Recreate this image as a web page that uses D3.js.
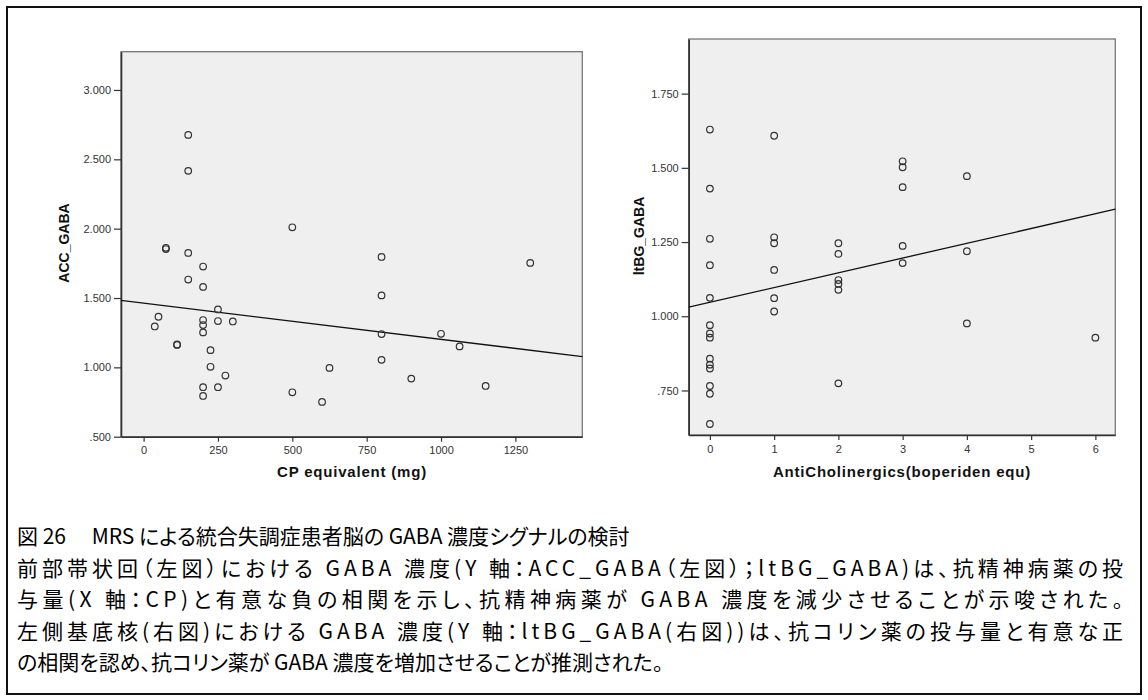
<!DOCTYPE html>
<html lang="ja">
<head>
<meta charset="utf-8">
<script src="https://cdn.jsdelivr.net/npm/d3@7"></script>
<style>
  html, body { margin: 0; padding: 0; background: #fff; }
  svg { display: block; }
  .tick text { font-family: "Liberation Sans", Arial, sans-serif; font-size: 11px; fill: #333; }
  .tick line { stroke: #333; stroke-width: 1.2; }
  .domain { stroke: #333; stroke-width: 1.6; }
  .axis-title { font-family: "Liberation Sans", Arial, sans-serif; font-weight: bold; fill: #111; }
  .caption { font-family: "Noto Sans CJK JP", sans-serif; font-size: 21px; fill: #000;
             font-feature-settings: "palt" 1; }
</style>
</head>
<body>
<svg id="fig" width="1148" height="700"></svg>
<script>
// Left panel: anterior cingulate GABA vs chlorpromazine-equivalent dose
const cpDose = [75, 75, 150, 200, 150, 200, 250, 50, 37.5, 200, 200, 250, 300, 200,
  112.5, 112.5, 225, 225, 275, 200, 250, 200, 500, 600, 625, 800, 800, 800, 800,
  900, 1000, 1062.5, 1150, 1300, 150, 150, 500];
const accGaba = [1.862, 1.853, 1.825, 1.727, 1.633, 1.580, 1.418, 1.365, 1.295, 1.341, 1.305, 1.334, 1.331, 1.252,
  1.165, 1.162, 1.124, 1.004, 0.941, 0.857, 0.857, 0.794, 0.820, 0.751, 0.996, 1.796, 1.519, 1.240, 1.054,
  0.919, 1.242, 1.151, 0.866, 1.753, 2.676, 2.417, 2.010];
const accFit = [1.463, -0.000261];            // intercept, slope
const cpTicks = [0, 250, 500, 750, 1000, 1250];
const accTicks = [0.5, 1.0, 1.5, 2.0, 2.5, 3.0];
const accTickLabels = [".500", "1.000", "1.500", "2.000", "2.500", "3.000"];

// Right panel: left basal ganglia GABA vs anticholinergic dose
const antiChol = [0, 0, 0, 0, 0, 0, 0, 0, 0, 0, 0, 0, 0, 0,
  1, 1, 1, 1, 1, 1,
  2, 2, 2, 2, 2, 2,
  3, 3, 3, 3, 3,
  4, 4, 4,
  6];
const ltbgGaba = [1.629, 1.430, 1.261, 1.172, 1.062, 0.970, 0.942, 0.928, 0.857, 0.837, 0.824, 0.765, 0.739, 0.637,
  1.608, 1.266, 1.246, 1.156, 1.061, 1.016,
  1.246, 1.210, 1.122, 1.109, 1.089, 0.774,
  1.522, 1.502, 1.435, 1.237, 1.179,
  1.472, 1.219, 0.976,
  0.928];
const ltbgFit = [1.047, 0.0497];
const acTicks = [0, 1, 2, 3, 4, 5, 6];
const ltbgTicks = [0.75, 1.0, 1.25, 1.5, 1.75];
const ltbgTickLabels = [".750", "1.000", "1.250", "1.500", "1.750"];

const captionLines = [
  "図 26\u3000 MRS による統合失調症患者脳の GABA 濃度シグナルの検討",
  "前部帯状回（左図）における GABA 濃度(Y 軸：ACC_GABA（左図）；ltBG_GABA)は、抗精神病薬の投",
  "与量(X 軸：CP)と有意な負の相関を示し、抗精神病薬が GABA 濃度を減少させることが示唆された。",
  "左側基底核(右図)における GABA 濃度(Y 軸：ltBG_GABA(右図))は、抗コリン薬の投与量と有意な正",
  "の相関を認め、抗コリン薬が GABA 濃度を増加させることが推測された。"
];

const svg = d3.select("#fig");

// page frame
svg.append("rect").attr("x", 7).attr("y", 7).attr("width", 1134).attr("height", 687)
  .attr("fill", "#fff").attr("stroke", "#111").attr("stroke-width", 2);

function panel(cfg) {
  const x = d3.scaleLinear().domain(cfg.xDomain).range([cfg.left, cfg.right]);
  const y = d3.scaleLinear().domain(cfg.yDomain).range([cfg.bottom, cfg.top]);
  const g = svg.append("g");

  g.append("rect")
    .attr("x", cfg.left).attr("y", cfg.top)
    .attr("width", cfg.right - cfg.left).attr("height", cfg.bottom - cfg.top)
    .attr("fill", "#efefef").attr("stroke", "#777").attr("stroke-width", 1.3);

  const fmt = d3.scaleOrdinal().domain(cfg.yTicks).range(cfg.yLabels);
  g.append("g").attr("transform", `translate(${cfg.left},0)`)
    .call(d3.axisLeft(y).tickValues(cfg.yTicks).tickFormat(fmt).tickSize(7).tickSizeOuter(0).tickPadding(3));
  g.append("g").attr("transform", `translate(0,${cfg.bottom})`)
    .call(d3.axisBottom(x).tickValues(cfg.xTicks).tickFormat(d3.format("d")).tickSize(5).tickSizeOuter(0).tickPadding(5));

  // fit line across the whole x range
  const xs = x.domain();
  g.append("line")
    .attr("x1", x(xs[0])).attr("y1", y(cfg.fit[0] + cfg.fit[1] * xs[0]))
    .attr("x2", x(xs[1])).attr("y2", y(cfg.fit[0] + cfg.fit[1] * xs[1]))
    .attr("stroke", "#111").attr("stroke-width", 1.3);

  g.append("g").selectAll("circle")
    .data(cfg.xs.map((v, i) => [v, cfg.ys[i]]))
    .join("circle")
    .attr("cx", d => x(d[0])).attr("cy", d => y(d[1])).attr("r", 3.3)
    .attr("fill", "none").attr("stroke", "#333").attr("stroke-width", 1.2);

  g.append("text").attr("class", "axis-title")
    .attr("x", cfg.xTitlePos[0]).attr("y", cfg.xTitlePos[1])
    .attr("text-anchor", "middle").attr("font-size", 15).attr("letter-spacing", 0.8)
    .text(cfg.xTitle);
  g.append("text").attr("class", "axis-title")
    .attr("transform", `translate(${cfg.yTitlePos[0]},${cfg.yTitlePos[1]}) rotate(-90)`)
    .attr("text-anchor", "middle").attr("dominant-baseline", "central").attr("font-size", 14)
    .text(cfg.yTitle);
}

panel({
  left: 121, right: 582.3, top: 51.7, bottom: 436.7,
  xDomain: [-76, 1475], yDomain: [0.5, 3.276],
  xTicks: cpTicks, yTicks: accTicks, yLabels: accTickLabels,
  xs: cpDose, ys: accGaba, fit: accFit,
  xTitle: "CP equivalent (mg)", xTitlePos: [352, 477],
  yTitle: "ACC_GABA", yTitlePos: [64, 243]
});

panel({
  left: 688.7, right: 1115.3, top: 39, bottom: 435,
  xDomain: [-0.33, 6.31], yDomain: [0.6, 1.934],
  xTicks: acTicks, yTicks: ltbgTicks, yLabels: ltbgTickLabels,
  xs: antiChol, ys: ltbgGaba, fit: ltbgFit,
  xTitle: "AntiCholinergics(boperiden equ)", xTitlePos: [902, 477],
  yTitle: "ltBG_GABA", yTitlePos: [639, 236]
});

// figure caption; the three middle lines are justified to the full width
const baselines = [544, 576, 607, 639, 670];
captionLines.forEach((line, i) => {
  const t = svg.append("text").attr("class", "caption")
    .attr("x", 17).attr("y", baselines[i]).text(line);
  if (i >= 1 && i <= 3) t.attr("textLength", 1106).attr("lengthAdjust", "spacing");
});
</script>
</body>
</html>
